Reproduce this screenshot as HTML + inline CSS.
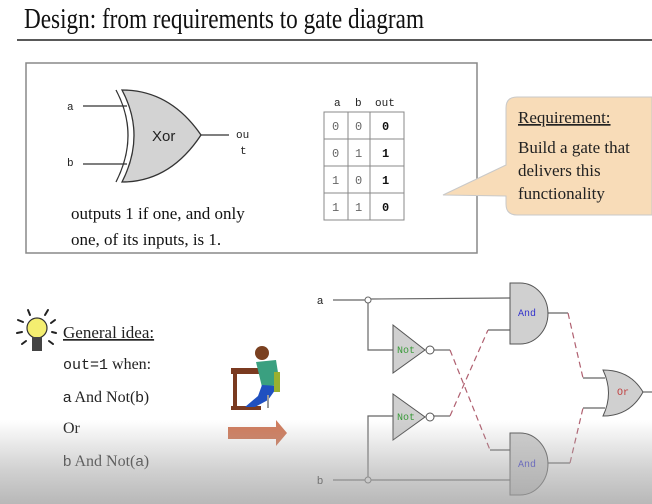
<!DOCTYPE html>
<html><head><meta charset="utf-8"><style>
html,body{margin:0;padding:0;background:#fff;}
body{width:652px;height:504px;overflow:hidden;position:relative;}
svg{position:absolute;left:0;top:0;}
.ov{position:absolute;left:0;top:420px;width:652px;height:84px;background:linear-gradient(to bottom,rgba(180,180,180,0),rgba(170,170,170,0.55) 60%,rgba(160,160,160,0.75));}
</style></head><body>
<svg width="652" height="504" viewBox="0 0 652 504" font-family="Liberation Serif, serif">
<text x="24" y="28" font-size="28" fill="#111" textLength="400" lengthAdjust="spacingAndGlyphs">Design: from requirements to gate diagram</text>
<line x1="17" y1="40" x2="652" y2="40" stroke="#222" stroke-width="1.5"/>
<rect x="26" y="63" width="451" height="190" fill="#fff" stroke="#888" stroke-width="1.5"/>
<!-- xor -->
<g font-family="Liberation Mono, monospace" fill="#222">
<text x="67" y="110" font-size="11">a</text>
<text x="67" y="166" font-size="11">b</text>
<text x="236" y="138" font-size="11">ou</text>
<text x="240" y="154" font-size="11">t</text>
</g>
<line x1="83" y1="106" x2="127" y2="106" stroke="#333" stroke-width="1.3"/>
<line x1="83" y1="164" x2="127" y2="164" stroke="#333" stroke-width="1.3"/>
<path d="M116 90 Q140 135 116 182" fill="none" stroke="#333" stroke-width="1.3"/>
<path d="M122 90 Q170 90 201 135 Q170 182 122 182 Q146 135 122 90Z" fill="#d3d3d3" stroke="#333" stroke-width="1.3"/>
<line x1="201" y1="135" x2="229" y2="135" stroke="#333" stroke-width="1.3"/>
<text x="152" y="141" font-family="Liberation Sans, sans-serif" font-size="15" fill="#222">Xor</text>
<text x="71" y="219" font-size="17" fill="#111">outputs 1 if one, and only</text>
<text x="71" y="245" font-size="17" fill="#111">one, of its inputs, is 1.</text>
<!-- table -->
<g font-family="Liberation Mono, monospace" font-size="11" fill="#222">
<text x="334" y="106">a</text><text x="355" y="106">b</text><text x="375" y="106">out</text>
</g>
<g stroke="#888" fill="none" stroke-width="1">
<rect x="324" y="112" width="80" height="108"/>
<line x1="324" y1="139" x2="404" y2="139"/><line x1="324" y1="166" x2="404" y2="166"/><line x1="324" y1="193" x2="404" y2="193"/>
<line x1="348" y1="112" x2="348" y2="220"/><line x1="370" y1="112" x2="370" y2="220"/>
</g>
<g font-family="Liberation Mono, monospace" font-size="12" fill="#666">
<text x="332" y="130">0</text><text x="355" y="130">0</text>
<text x="332" y="157">0</text><text x="355" y="157">1</text>
<text x="332" y="184">1</text><text x="355" y="184">0</text>
<text x="332" y="211">1</text><text x="355" y="211">1</text>
</g>
<g font-family="Liberation Mono, monospace" font-size="12" fill="#111" font-weight="bold">
<text x="382" y="130">0</text><text x="382" y="157">1</text><text x="382" y="184">1</text><text x="382" y="211">0</text>
</g>
<!-- callout -->
<path d="M517 97 H652 V215 H517 Q506 215 506 204 V196 L443 195 L506 165 V108 Q506 97 517 97Z" fill="#f8dcb8" stroke="#c9c9c9" stroke-width="1"/>
<text x="518" y="123" font-size="17" fill="#222" text-decoration="underline">Requirement:</text>
<text x="518" y="153" font-size="17" fill="#222">Build a gate that</text>
<text x="518" y="176" font-size="17" fill="#222">delivers this</text>
<text x="518" y="199" font-size="17" fill="#222">functionality</text>
<!-- bulb -->
<g stroke="#222" stroke-width="2" stroke-linecap="round">
<line x1="28" y1="310" x2="30" y2="315"/><line x1="48" y1="310" x2="45" y2="315"/>
<line x1="18" y1="320" x2="23" y2="322"/><line x1="55" y1="320" x2="51" y2="323"/>
<line x1="17" y1="333" x2="22" y2="332"/><line x1="56" y1="333" x2="52" y2="332"/>
<line x1="22" y1="344" x2="26" y2="341"/><line x1="53" y1="344" x2="49" y2="341"/>
</g>
<circle cx="37" cy="328" r="10" fill="#f4ee70" stroke="#333" stroke-width="1.2"/>
<rect x="32" y="337" width="10" height="14" fill="#444"/>
<text x="63" y="338" font-size="17" fill="#222" text-decoration="underline">General idea:</text>
<text x="63" y="369" font-size="16" fill="#222"><tspan font-family="Liberation Mono, monospace" font-size="15">out=1</tspan> when:</text>
<text x="63" y="402" font-size="16" fill="#222"><tspan font-family="Liberation Sans, sans-serif" font-size="15">a</tspan> And Not(<tspan font-family="Liberation Sans, sans-serif" font-size="15">b</tspan>)</text>
<text x="63" y="433" font-size="16" fill="#222">Or</text>
<text x="63" y="466" font-size="16" fill="#222"><tspan font-family="Liberation Sans, sans-serif" font-size="15">b</tspan> And Not(<tspan font-family="Liberation Sans, sans-serif" font-size="15">a</tspan>)</text>
<!-- person -->
<rect x="231" y="368" width="30" height="6" fill="#7a3a20"/>
<rect x="233" y="374" width="4" height="36" fill="#7a3a20"/>
<rect x="231" y="406" width="30" height="4" fill="#7a3a20"/>
<circle cx="262" cy="353" r="7" fill="#7a4020"/>
<path d="M256 362 L276 360 L280 385 L262 387Z" fill="#3aa080"/>
<path d="M262 385 L278 386 L268 400 L255 407 L245 407 L258 396Z" fill="#2050c0"/>
<rect x="274" y="372" width="6" height="20" fill="#9ab030"/>
<line x1="268" y1="395" x2="268" y2="408" stroke="#999" stroke-width="2"/>
<path d="M228 427 H276 V420 L287 433 L276 446 V439 H228Z" fill="#d07a5a"/>
<!-- circuit -->
<g font-family="Liberation Sans, sans-serif" font-size="11" fill="#222"><text x="317" y="304">a</text><text x="317" y="484">b</text></g>
<g stroke="#666" stroke-width="1.2" fill="none">
<line x1="333" y1="300" x2="365" y2="300"/><line x1="371" y1="299" x2="510" y2="298"/>
<polyline points="368,303 368,350 393,350"/>
<line x1="333" y1="480" x2="365" y2="480"/><line x1="371" y1="480" x2="510" y2="480"/>
<polyline points="368,477 368,416 393,416"/>
<polyline points="434,350 450,350"/><polyline points="434,416 450,416"/>
<polyline points="488,330 510,330"/><polyline points="490,450 510,450"/>
<polyline points="548,313 568,313"/><polyline points="583,378 605,378"/>
<polyline points="548,463 570,463"/><polyline points="583,408 605,408"/>
<line x1="643" y1="392" x2="652" y2="392"/>
</g>
<g stroke="#b06070" stroke-width="1.2" stroke-dasharray="6,4" fill="none">
<line x1="450" y1="350" x2="490" y2="450"/><line x1="450" y1="416" x2="488" y2="330"/>
<line x1="568" y1="313" x2="583" y2="378"/><line x1="570" y1="463" x2="583" y2="408"/>
</g>
<circle cx="368" cy="300" r="3" fill="#fff" stroke="#666"/>
<circle cx="368" cy="480" r="3" fill="#fff" stroke="#666"/>
<path d="M393 325 L425 350 L393 373Z" fill="#d0d0d0" stroke="#555"/>
<circle cx="430" cy="350" r="4" fill="#fff" stroke="#555"/>
<path d="M393 394 L425 417 L393 440Z" fill="#d0d0d0" stroke="#555"/>
<circle cx="430" cy="417" r="4" fill="#fff" stroke="#555"/>
<path d="M510 283 H520 A28 30.5 0 0 1 520 344 H510Z" fill="#d0d0d0" stroke="#555"/>
<path d="M510 433 H520 A28 31 0 0 1 520 495 H510Z" fill="#d0d0d0" stroke="#555"/>
<path d="M603 370 Q630 370 643 392 Q630 416 603 416 Q614 393 603 370Z" fill="#d0d0d0" stroke="#555"/>
<g font-family="Liberation Mono, monospace" font-size="10">
<text x="397" y="353" fill="#3a9a3a">Not</text><text x="397" y="420" fill="#3a9a3a">Not</text>
<text x="518" y="316" fill="#3333cc">And</text><text x="518" y="467" fill="#3333cc">And</text>
<text x="617" y="395" fill="#c04040">Or</text>
</g>
</svg>
<div class="ov"></div>
</body></html>
